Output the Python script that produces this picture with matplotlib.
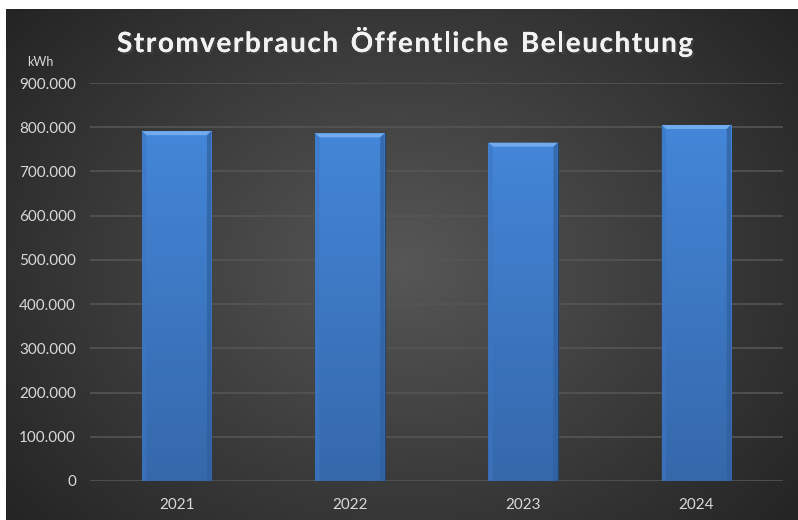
import numpy as np
import matplotlib.pyplot as plt
import matplotlib.patheffects as pe
from matplotlib.patches import Polygon
from matplotlib.ticker import FuncFormatter

years = ['2021', '2022', '2023', '2024']
verbrauch = [791000, 786000, 765000, 805000]
y_ticks = [0, 100000, 200000, 300000, 400000, 500000, 600000, 700000, 800000, 900000]
title = 'Stromverbrauch Öffentliche Beleuchtung'

fig = plt.figure(figsize=(7.98, 5.20), dpi=100)
fig.patch.set_facecolor('white')

# dark radial background
bg = fig.add_axes([6 / 798, 0, 1 - 6 / 798, 1 - 9 / 520])
bg.set_axis_off()
gx, gy = np.meshgrid(np.linspace(-1, 1, 400), np.linspace(-1, 1, 260))
r = np.sqrt((gx * 0.9) ** 2 + (gy * 0.75) ** 2)
shade = np.clip(0.34 - 0.17 * r, 0.12, 0.34)
bg.imshow(np.dstack([shade, shade, shade]), aspect='auto', extent=[0, 1, 0, 1])
bg.set_xlim(0, 1)
bg.set_ylim(0, 1)

ax = fig.add_axes([90 / 798, 1 - 481 / 520, (783 - 90) / 798, (481 - 83) / 520])
ax.set_facecolor('none')
x = np.arange(len(years))
bars = ax.bar(x, verbrauch, width=0.4, color='#3f7fcf', edgecolor='#22446e',
              linewidth=0.8, zorder=3)

# gradient + bevel on every bar
grad = np.linspace(0, 1, 100).reshape(-1, 1)
top_col = np.array([0x44, 0x86, 0xd8]) / 255
bot_col = np.array([0x35, 0x68, 0xab]) / 255
img = top_col * (1 - grad[..., None]) + bot_col * grad[..., None]
img = img.reshape(100, 1, 3)
dy = 9000
dx = 0.025
for b in bars:
    bx, bw, bh = b.get_x(), b.get_width(), b.get_height()
    im = ax.imshow(img, aspect='auto', extent=[bx, bx + bw, 0, bh], zorder=3.5)
    im.set_clip_path(b)
    ax.add_patch(Polygon([(bx, bh), (bx + bw, bh), (bx + bw - dx, bh - dy), (bx + dx, bh - dy)],
                         closed=True, facecolor='#72acee', edgecolor='none', zorder=4))
    ax.add_patch(Polygon([(bx, bh), (bx + dx, bh - dy), (bx + dx, 0), (bx, 0)],
                         closed=True, facecolor='#3c76c2', alpha=0.6, edgecolor='none', zorder=4))
    ax.add_patch(Polygon([(bx + bw, bh), (bx + bw - dx, bh - dy), (bx + bw - dx, 0), (bx + bw, 0)],
                         closed=True, facecolor='#2f5f9e', alpha=0.7, edgecolor='none', zorder=4))
    ax.add_patch(Polygon(b.get_verts(), closed=True, facecolor='none',
                         edgecolor='#1f3f66', linewidth=0.8, zorder=4.5))

ax.set_xlim(-0.5, len(years) - 0.5)
ax.set_ylim(0, 900000)
ax.set_yticks(y_ticks)
ax.yaxis.set_major_formatter(FuncFormatter(lambda v, p: f'{int(v):,}'.replace(',', '.')))
ax.set_xticks(x)
ax.set_xticklabels(years)
ax.grid(axis='y', color='#555555', linewidth=1.2, zorder=1)
for s in ax.spines.values():
    s.set_visible(False)
ax.tick_params(length=0, colors='#d9d9d9', labelsize=11, pad=10)
for lab in ax.get_xticklabels() + ax.get_yticklabels():
    lab.set_family('Lato')
ax.tick_params(axis='x', pad=12)

fig.text(40 / 798, 1 - 62 / 520, 'kWh', color='#d9d9d9', fontsize=9, family='Lato',
         ha='center', va='center')

# title with letter spacing: place each character separately
renderer = fig.canvas.get_renderer()
tstyle = dict(color='#f2f2f2', fontsize=20, fontweight='bold', family='Lato',
              va='baseline', ha='left',
              path_effects=[pe.withSimplePatchShadow(offset=(1.5, -1.5), alpha=0.6), pe.Normal()])
widths = []
for ch in title:
    if ch == ' ':
        t = fig.text(0, 0, 'n', **tstyle)
        w = t.get_window_extent(renderer).width * 0.6
    else:
        t = fig.text(0, 0, ch, **tstyle)
        w = t.get_window_extent(renderer).width
    t.remove()
    widths.append(w)
left, right = 117, 693
gap = (right - left - sum(widths)) / (len(title) - 1)
pos = left
for ch, w in zip(title, widths):
    if ch != ' ':
        fig.text(pos / 798, 1 - 52 / 520, ch, **tstyle)
    pos += w + gap

fig.savefig('out.png', dpi=100)
